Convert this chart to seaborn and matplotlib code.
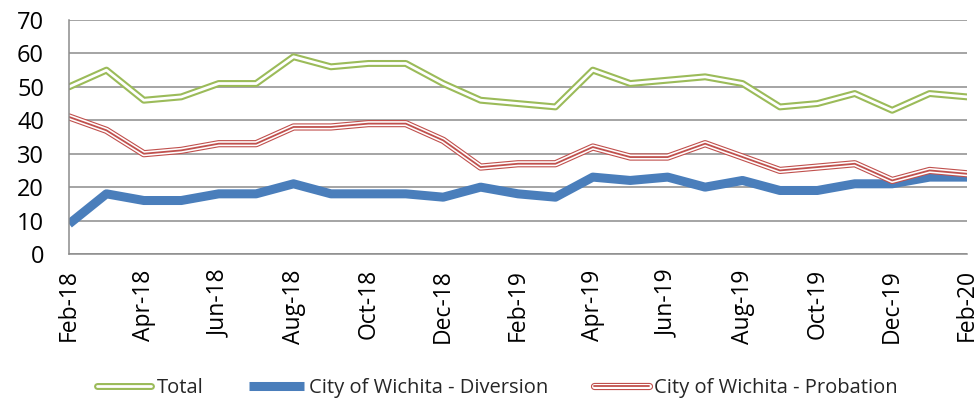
import pandas as pd
import matplotlib.pyplot as plt
import matplotlib.patheffects as pe
import seaborn as sns

# monthly counts, Feb-18 .. Feb-20
months = pd.date_range('2018-02-01', '2020-02-01', freq='MS').strftime('%b-%y').tolist()
diversion = [9, 18, 16, 16, 18, 18, 21, 18, 18, 18, 17, 20, 18,
             17, 23, 22, 23, 20, 22, 19, 19, 21, 21, 23, 23]
probation = [41, 37, 30, 31, 33, 33, 38, 38, 39, 39, 34, 26, 27,
             27, 32, 29, 29, 33, 29, 25, 26, 27, 22, 25, 24]
total = [50, 55, 46, 47, 51, 51, 59, 56, 57, 57, 51, 46, 45,
         44, 55, 51, 52, 53, 51, 44, 45, 48, 43, 48, 47]

df = pd.DataFrame({'pos': range(len(months)), 'Month': months,
                   'Total': total,
                   'City of Wichita - Diversion': diversion,
                   'City of Wichita - Probation': probation})

sns.set_style('white')
plt.rcParams['font.family'] = ['Open Sans', 'DejaVu Sans']

fig = plt.figure(figsize=(9.75, 4), dpi=100)
ax = fig.add_axes([0.0708, 0.365, 0.921, 0.585])

green, blue, red = '#9BBB59', '#4A7EBB', '#C0504D'

# Total: green double line
sns.lineplot(data=df, x='pos', y='Total', ax=ax, color='white', lw=2.0, label='Total')
ax.lines[-1].set_path_effects([pe.Stroke(linewidth=5.0, foreground=green), pe.Normal()])

# Diversion: thick blue
sns.lineplot(data=df, x='pos', y='City of Wichita - Diversion', ax=ax, color=blue, lw=6.5,
             label='City of Wichita - Diversion')
ax.lines[-1].set_solid_capstyle('butt')

# Probation: red triple line
sns.lineplot(data=df, x='pos', y='City of Wichita - Probation', ax=ax, color=red, lw=1.3,
             label='City of Wichita - Probation')
ax.lines[-1].set_path_effects([pe.Stroke(linewidth=5.2, foreground=red),
                               pe.Stroke(linewidth=3.6, foreground='white'), pe.Normal()])

ax.set_xlim(0, len(months) - 1)
ax.set_ylim(0, 70)
ax.set_yticks(range(0, 71, 10))
ax.set_xticks(df['pos'][::2])
ax.set_xticklabels(df['Month'][::2], rotation=90)
ax.tick_params(axis='both', length=0, colors='black')
ax.tick_params(axis='y', pad=18, labelsize=17)
ax.tick_params(axis='x', pad=11, labelsize=16.5)
ax.set_xlabel('')
ax.set_ylabel('')

ax.grid(axis='y', color='#8C8C8C', lw=1.1)
ax.set_axisbelow(True)
for s in ['top', 'right']:
    ax.spines[s].set_visible(False)
for s in ['left', 'bottom']:
    ax.spines[s].set_color('#8C8C8C')
    ax.spines[s].set_linewidth(1.1)

handles, labels = ax.get_legend_handles_labels()
ax.get_legend().remove()
fig.legend(handles, labels, loc='center', bbox_to_anchor=(0.51, 0.03), ncol=3,
           frameon=False, fontsize=14.5, handlelength=2.7, handletextpad=0.25,
           columnspacing=2.3)

fig.savefig('out.png', dpi=100)
